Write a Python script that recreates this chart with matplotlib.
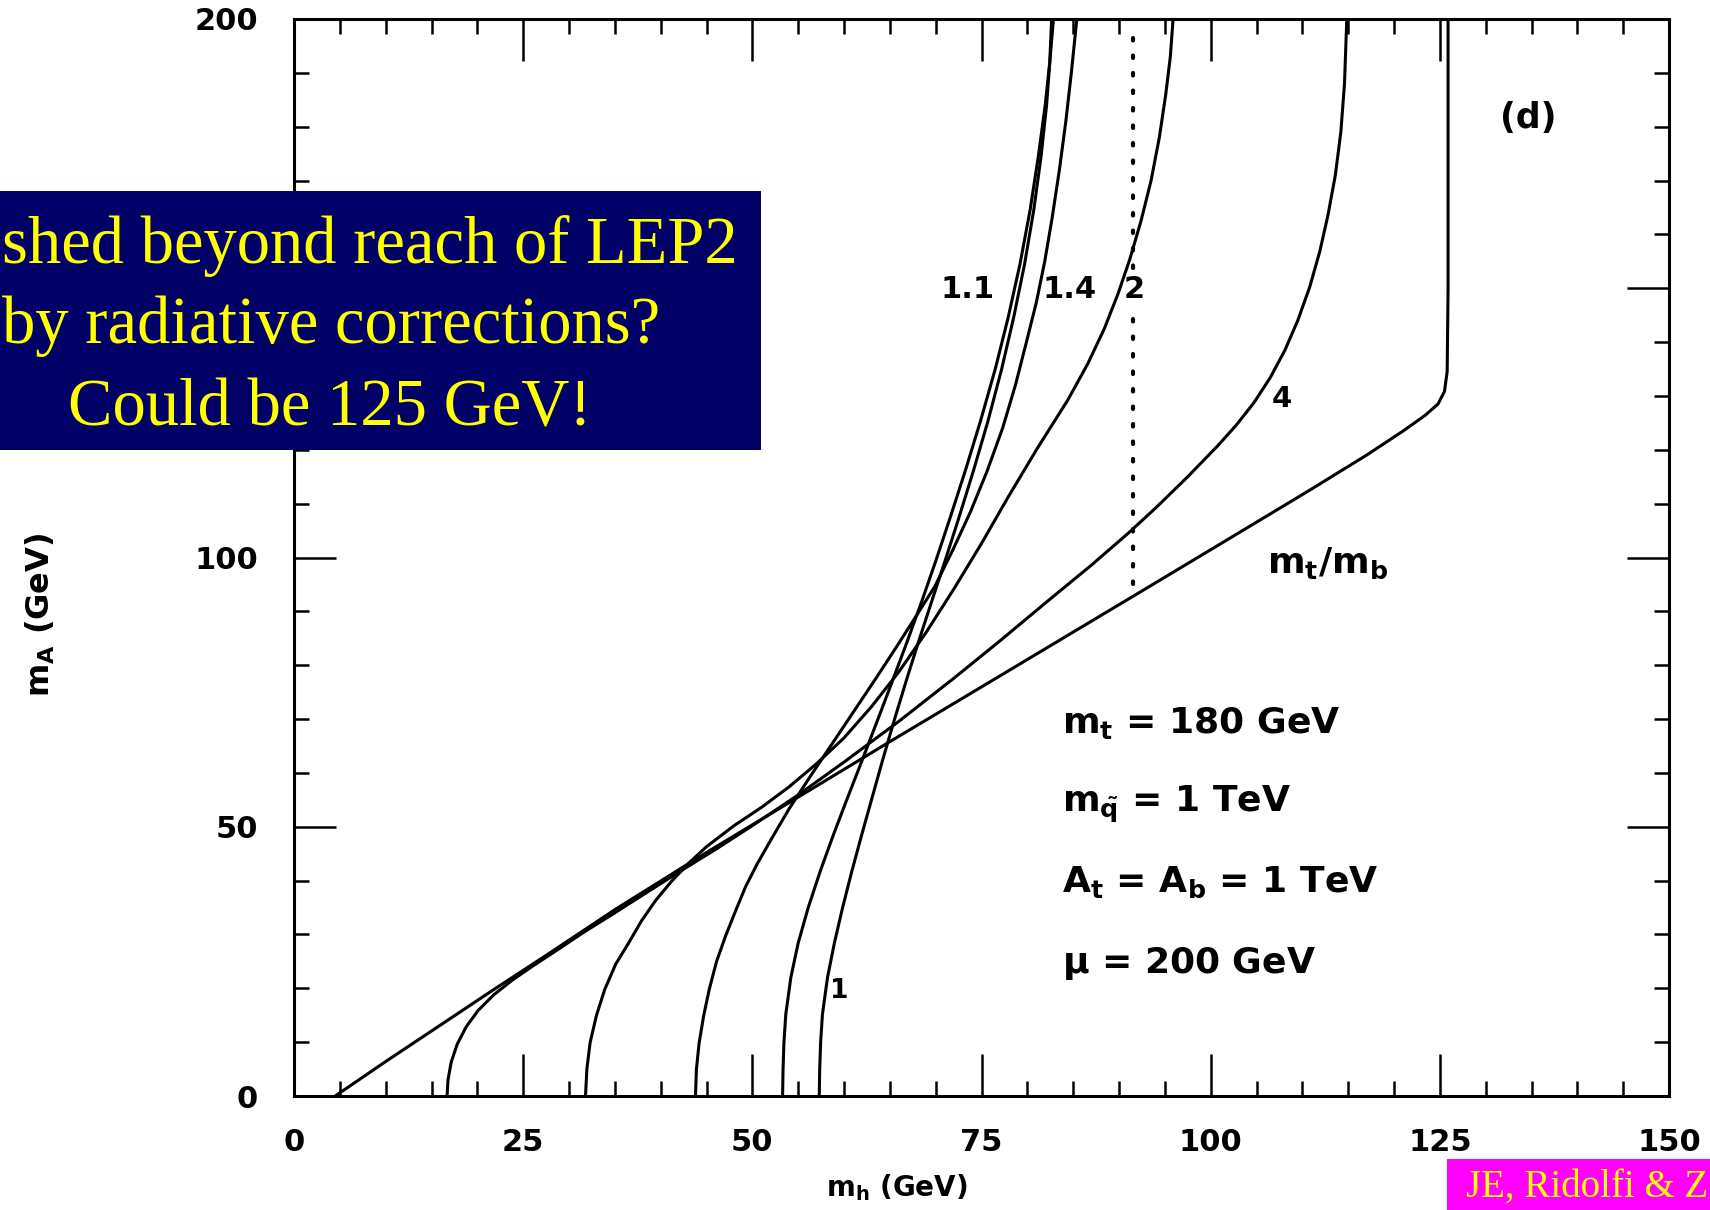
import matplotlib
matplotlib.use("Agg")
import matplotlib.pyplot as plt
from matplotlib.patches import Rectangle
from matplotlib.ticker import MultipleLocator

plt.rcParams['mathtext.fontset'] = 'dejavusans'
plt.rcParams['mathtext.default'] = 'bf'

# ---- data: m_h (x) vs m_A (y), GeV, one curve per tan(beta) ----
mtmb_x = [4.5, 10, 16, 22, 27.4, 35, 44.4, 55, 65, 77, 93.3, 102.5, 110.8, 117, 121, 123.4, 124.8, 125.5, 125.8, 125.9, 125.9]
mtmb_y = [0, 6.4, 13.2, 20, 26, 34.6, 44.6, 55.5, 65.8, 78, 94.6, 104, 112.5, 119, 123.5, 126.4, 128.5, 130.8, 134.5, 150, 200]

tb4_x = [16.7, 16.8, 17.15, 17.8, 18.8, 20.1, 21.8, 23.8, 26.1, 28.7, 31.6, 34.8, 38.3, 42, 46, 50, 55, 60, 66, 72, 77,
         82.5, 87, 91, 94, 97.5, 100.8, 102.8, 104.7, 106.5, 108.1, 109.5, 110.8, 111.9, 112.8, 113.6, 114.2, 114.6, 114.85]
tb4_y = [0, 3, 6.3, 9.6, 12.9, 15.9, 18.8, 21.5, 24.2, 27.1, 30.4, 33.8, 37.6, 41.6, 45.8, 50.2, 55.9, 62.0, 69.6, 77.6, 84.5,
         92.3, 98.6, 104.5, 109.2, 115.0, 120.8, 124.6, 128.7, 133.4, 138.5, 144.0, 150.2, 156.8, 163.6, 171, 179, 188, 200]

tb2_x = [31.8, 31.95, 32.3, 33.0, 33.9, 35.1, 36.5, 37.9, 39.4, 41.2, 43.1, 45, 48, 51, 54, 57, 60, 63, 66, 69, 72, 75,
         77.9, 81.1, 84.4, 86.6, 88.4, 89.9, 91.2, 92.4, 93.5, 94.4, 95.1, 95.6, 95.9]
tb2_y = [0, 5, 9.9, 15, 19.8, 24.5, 28.4, 32.5, 36.2, 39.9, 43.3, 46.3, 50.2, 53.6, 57.4, 61.7, 66.5, 72.3, 78.8, 86.2, 94.2, 102.6,
         111.2, 120.3, 129.2, 136, 142.5, 149, 155.5, 162.5, 170, 178, 186, 193, 200]

tb14_x = [43.8, 43.9, 44.2, 44.7, 45.3, 46.1, 47.1, 48.2, 49.3, 50.5, 52, 54, 56.3, 58.7, 61.1, 63.5, 65.8, 67.9, 69.9,
          71.9, 73.8, 75.6, 77.3, 78.7, 79.9, 81.0, 81.9, 82.7, 83.5, 84.2, 84.8, 85.4]
tb14_y = [0, 5, 9.9, 15, 19.8, 25, 29.8, 34.5, 39, 43, 47.5, 53.3, 59.3, 65.4, 71.5, 77.6, 83.6, 89.2, 94.6,
          101.5, 108.5, 116, 124, 132, 140, 147.5, 155, 163, 172, 181, 190, 200]

tb11_x = [53.3, 53.35, 53.45, 53.65, 54.2, 55.0, 56.1, 57.4, 58.8, 60.3, 61.9, 63.55, 65.2, 66.85, 68.45, 70.0,
          71.6, 73.25, 74.9, 76.5, 77.9, 79.2, 80.3, 81.2, 81.95, 82.45, 82.85]
tb11_y = [0, 5, 10, 15.2, 22, 28.4, 35, 41.7, 48.3, 55, 62, 69.3, 76.7, 84.2, 91.7, 99.3,
          107.5, 116.2, 125.4, 135, 144.5, 154.5, 164.5, 174.5, 184, 192, 200]

tb1_x = [57.3, 57.35, 57.45, 57.65, 58.2, 58.95, 59.85, 60.85, 61.9, 63.0, 64.2, 65.45, 66.75, 68.1, 69.5, 70.95,
         72.5, 74.1, 75.7, 77.2, 78.5, 79.7, 80.7, 81.5, 82.1, 82.45, 82.65]
tb1_y = [0, 5, 10, 15.2, 22, 28.4, 35, 41.7, 48.3, 55, 62.3, 69.6, 76.9, 84.2, 91.5, 99.0,
         107.2, 116, 125.3, 135, 144.5, 154.5, 164.5, 174.5, 184, 192, 200]

curves_x = [mtmb_x, tb4_x, tb2_x, tb14_x, tb11_x, tb1_x]
curves_y = [mtmb_y, tb4_y, tb2_y, tb14_y, tb11_y, tb1_y]

mz = 91.5
mz_segments = [(95.0, 144.6), (153.8, 198.0)]

x_ticks = [0, 25, 50, 75, 100, 125, 150]
x_tick_labels = ["0", "25", "50", "75", "100", "125", "150"]
y_ticks = [0, 50, 100, 150, 200]
y_tick_labels = ["0", "50", "100", "", "200"]   # 150 is hidden behind the overlay box

curve_labels = ["1.1", "1.4", "2", "4", r"$m_t/m_b$", "1"]
curve_label_x = [73.5, 84.6, 91.7, 107.8, 112.8, 59.5]
curve_label_y = [149.7, 149.7, 149.7, 129.5, 99.0, 19.5]
curve_label_size = [22, 22, 22, 21, 26, 19]

param_lines = [r"$m_t$ = 180 GeV", r"$m_{\tilde{q}}$ = 1 TeV", r"$A_t$ = $A_b$ = 1 TeV", r"$\mu$ = 200 GeV"]
param_x = 83.8
param_y = [67.4, 52.8, 37.9, 22.8]

box_lines = ["shed beyond reach of LEP2", "by radiative corrections?", "Could be 125 GeV!"]
credit = "JE, Ridolfi & Z"

# ---- figure ----
W, H = 1710, 1210
fig = plt.figure(figsize=(W / 100, H / 100), dpi=100)
L, R, T, B = 294, 1669, 19, 1096
ax = fig.add_axes([L / W, 1 - B / H, (R - L) / W, (B - T) / H])
ax.set_xlim(0, 150)
ax.set_ylim(0, 200)

for cx, cy in zip(curves_x, curves_y):
    ax.plot(cx, cy, color='black', lw=2.2, solid_joinstyle='round', solid_capstyle='round')

for y0, y1 in mz_segments:
    ax.plot([mz, mz], [y0, y1], color='black', lw=3.0, linestyle=(0, (0.6, 3.6)),
            dash_capstyle='round')

ax.set_xticks(x_ticks)
ax.set_xticklabels(x_tick_labels)
ax.set_yticks(y_ticks)
ax.set_yticklabels(y_tick_labels)
ax.xaxis.set_minor_locator(MultipleLocator(5))
ax.yaxis.set_minor_locator(MultipleLocator(10))
ax.tick_params(which='both', direction='in', top=True, right=True, width=1.8, color='black')
ax.tick_params(which='major', length=30)
ax.tick_params(which='minor', length=11)
ax.tick_params(axis='x', which='major', pad=23, labelsize=22)
ax.tick_params(axis='y', which='major', pad=26, labelsize=22)
for lab in ax.get_xticklabels() + ax.get_yticklabels():
    lab.set_fontweight('bold')
for s in ax.spines.values():
    s.set_linewidth(2.2)

for t, x, y, s in zip(curve_labels, curve_label_x, curve_label_y, curve_label_size):
    ax.text(x, y, t, fontsize=s, fontweight='bold', ha='center', va='center', color='black')

ax.text(134.6, 181.6, "(d)", fontsize=25, fontweight='bold', ha='center', va='center')

for t, y in zip(param_lines, param_y):
    ax.text(param_x, y, t, fontsize=26, fontweight='bold', ha='left', va='baseline')

fig.text(897 / W, 1 - 1188 / H, r"$m_h$ (GeV)", fontsize=20, fontweight='bold', ha='center', va='center')
fig.text(40 / W, 1 - 615 / H, r"$m_A$ (GeV)", fontsize=23, fontweight='bold', ha='center', va='center',
         rotation=90)

# overlay boxes
fig.add_artist(Rectangle((0, 1 - 450 / H), 761 / W, 259 / H, transform=fig.transFigure,
                         facecolor='#000066', edgecolor='none', zorder=5))
fig.text(2 / W, 1 - 263 / H, box_lines[0], fontsize=48, color='#FFFF00', family='Liberation Serif',
         ha='left', va='baseline', zorder=6)
fig.text(2 / W, 1 - 343 / H, box_lines[1], fontsize=48, color='#FFFF00', family='Liberation Serif',
         ha='left', va='baseline', zorder=6)
fig.text(330 / W, 1 - 425 / H, box_lines[2], fontsize=48, color='#FFFF00', family='Liberation Serif',
         ha='center', va='baseline', zorder=6)

fig.add_artist(Rectangle((1447 / W, 0), (W - 1447) / W, 51 / H, transform=fig.transFigure,
                         facecolor='#FF00FF', edgecolor='none', zorder=5))
fig.text(1466 / W, 1 - 1197 / H, credit, fontsize=28, color='#FFFF00', family='Liberation Serif',
         ha='left', va='baseline', zorder=6)

fig.savefig("out.png", dpi=100)
